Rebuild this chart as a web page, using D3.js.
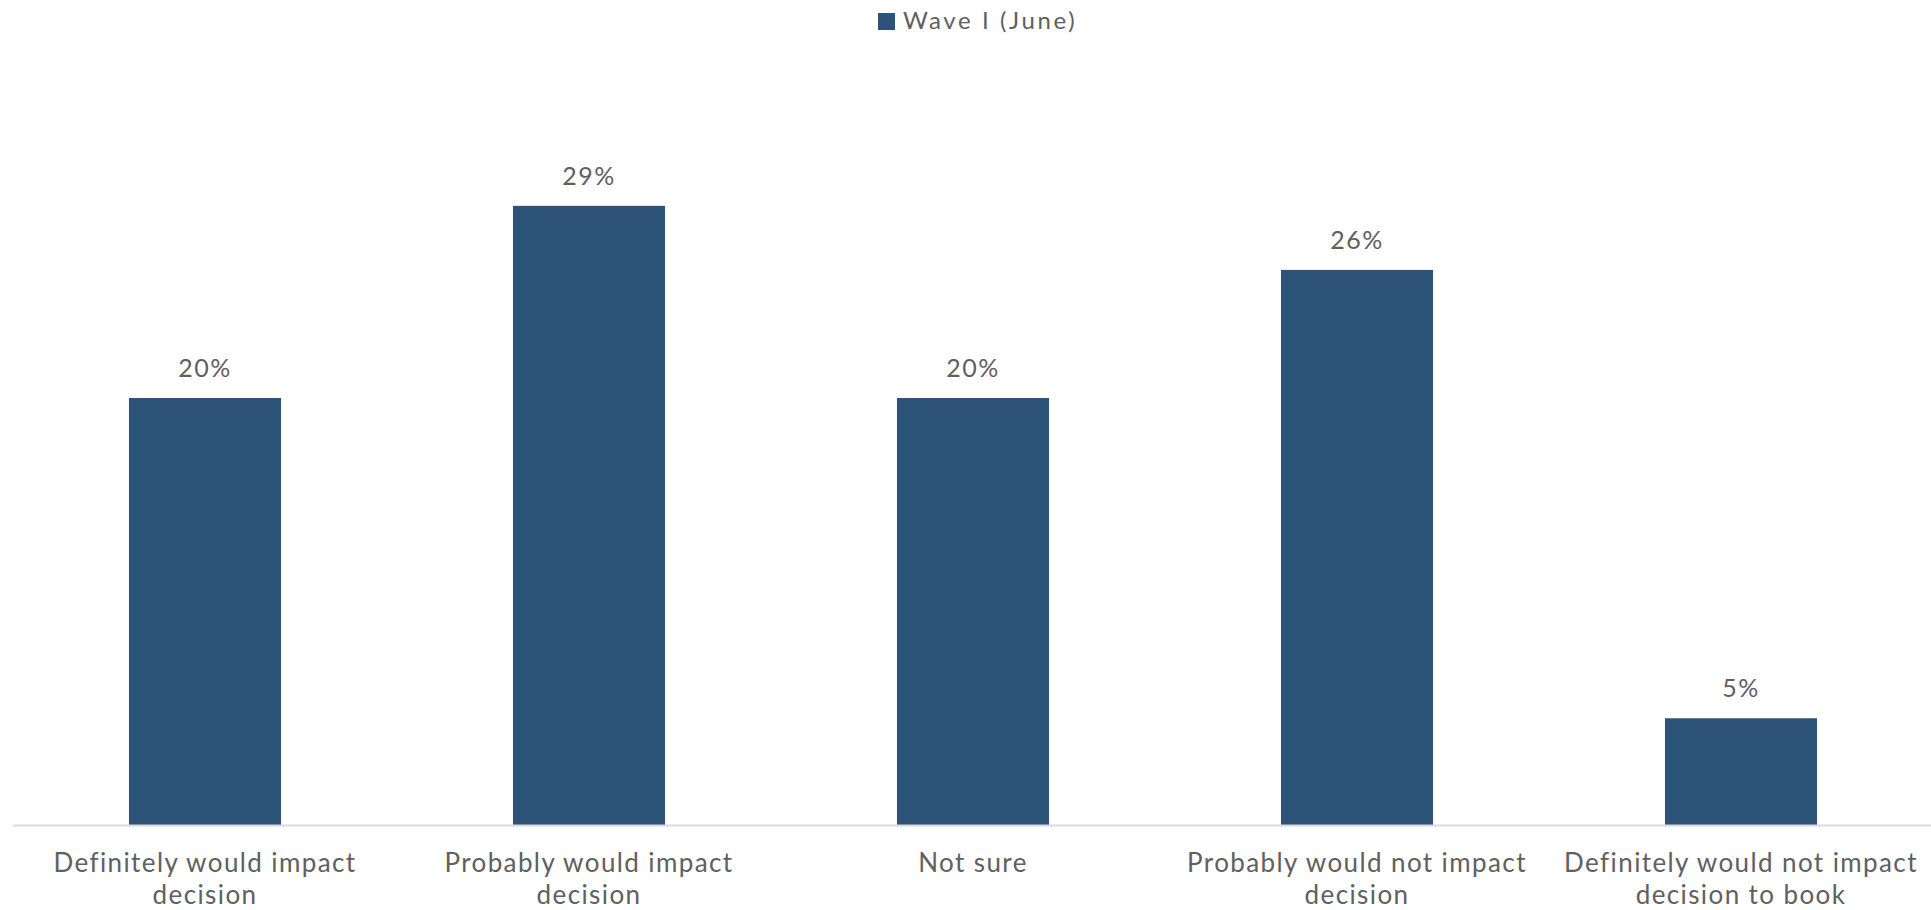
<!DOCTYPE html>
<html>
<head>
<meta charset="utf-8">
<script src="https://cdn.jsdelivr.net/npm/d3@7"></script>
<style>
  html, body { margin: 0; padding: 0; background: #ffffff; }
  svg { display: block; }
  text { font-family: "Lato", "Noto Sans", sans-serif; fill: #606060; }
</style>
</head>
<body>
<script>
const categories = [
  "Definitely would impact decision",
  "Probably would impact decision",
  "Not sure",
  "Probably would not impact decision",
  "Definitely would not impact decision to book"
];
const seriesName = "Wave I (June)";
const values = [20, 29, 20, 26, 5];
const valueLabels = ["20%", "29%", "20%", "26%", "5%"];

const W = 1931, H = 910;
const baseline = 825;
const barColor = "#2D5378";

const svg = d3.select("body").append("svg").attr("width", W).attr("height", H);

const x = d3.scaleBand()
  .domain(categories)
  .range([13, 1933])
  .paddingInner(0.604)
  .paddingOuter(0.302);

const y = d3.scaleLinear().domain([0, 35]).range([baseline, baseline - 35 * 21.35]);

// bars
svg.append("g").selectAll("rect")
  .data(values)
  .join("rect")
  .attr("x", (d, i) => x(categories[i]))
  .attr("y", d => y(d))
  .attr("width", x.bandwidth())
  .attr("height", d => y(0) - y(d))
  .attr("fill", barColor);

// axis
const axis = svg.append("g")
  .attr("transform", `translate(0,${baseline})`)
  .call(d3.axisBottom(x).tickSize(0).tickPadding(0));
axis.select(".domain").attr("stroke", "#D9D9D9").attr("stroke-width", 2)
  .attr("d", `M13,0.5H1931`);
axis.selectAll(".tick text").remove();

// wrapped category labels
const maxW = 365;
const labelG = svg.append("g");
categories.forEach((c, i) => {
  const cx = x(c) + x.bandwidth() / 2;
  const t = labelG.append("text")
    .attr("x", cx)
    .attr("y", 872)
    .attr("text-anchor", "middle")
    .style("font-size", "26px")
    .style("letter-spacing", "1.4px");
  const words = c.split(" ");
  let line = [];
  let ts = t.append("tspan").attr("x", cx).attr("dy", 0);
  words.forEach(w => {
    line.push(w);
    ts.text(line.join(" "));
    if (ts.node().getComputedTextLength() > maxW && line.length > 1) {
      line.pop();
      ts.text(line.join(" "));
      line = [w];
      ts = t.append("tspan").attr("x", cx).attr("dy", 31.5).text(w);
    }
  });
});

// value labels
svg.append("g").selectAll("text")
  .data(values)
  .join("text")
  .attr("x", (d, i) => x(categories[i]) + x.bandwidth() / 2)
  .attr("y", d => y(d) - 21)
  .attr("text-anchor", "middle")
  .style("font-size", "25px")
  .style("letter-spacing", "1.5px")
  .text((d, i) => valueLabels[i]);

// legend
const leg = svg.append("g");
leg.append("rect").attr("x", 878).attr("y", 13).attr("width", 17).attr("height", 17).attr("fill", barColor);
leg.append("text").attr("x", 903).attr("y", 29).style("font-size", "24px")
  .style("letter-spacing", "2.6px").text(seriesName);
</script>
</body>
</html>
